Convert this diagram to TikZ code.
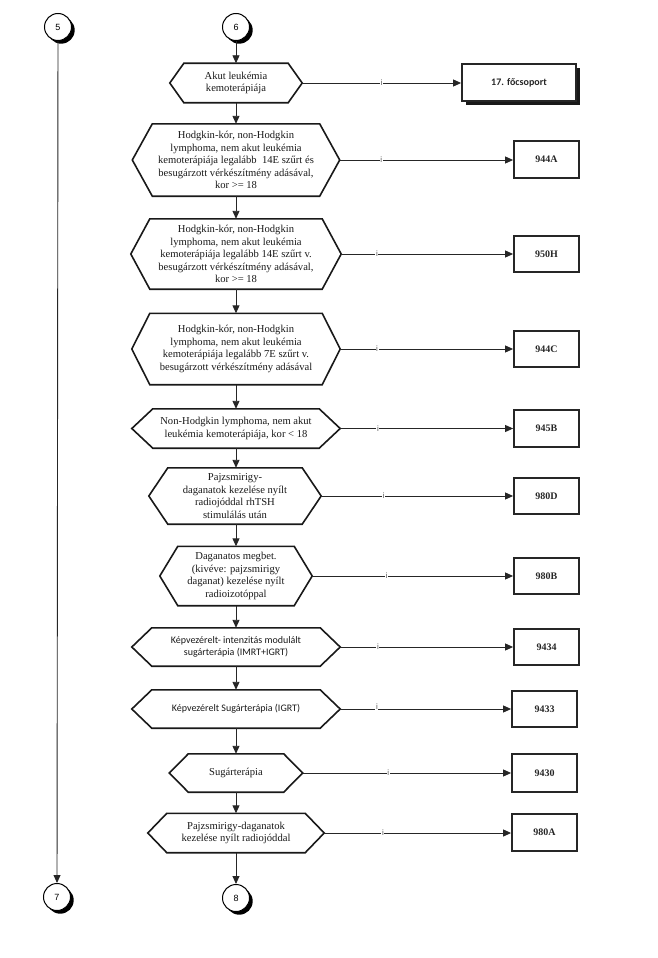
\documentclass[tikz,border=0pt]{standalone}
\usepackage{fontspec}
\setmainfont{Liberation Serif}
\newfontfamily\carlito{Carlito}
\newfontfamily\arialf{Liberation Sans}
\usetikzlibrary{arrows.meta,shadows}
\newcommand\hexdraw[2]{\draw[hexline] (#1.west) -- ([xshift=#2pt]#1.north west) -- ([xshift=-#2pt]#1.north east) -- (#1.east) -- ([xshift=-#2pt]#1.south east) -- ([xshift=#2pt]#1.south west) -- cycle;}
\tikzset{
 hexnode/.style={rectangle, inner sep=0pt, align=center, text=black!90, font=\fontsize{10.6}{12.4}\selectfont},
 hexsans/.style={hexnode, font=\carlito\fontsize{10}{12.4}\selectfont},
 hexline/.style={line width=1.6pt, line join=miter, black!90},
 codebox/.style={draw=black!85, line width=1.8pt, rectangle, minimum width=65pt, minimum height=36pt, font=\fontsize{10}{12}\selectfont\bfseries, text=black!85, inner sep=0pt},
 conn/.style={line width=0.9pt, black!85, -{Triangle[length=8pt,width=7pt]}},
 ilab/.style={fill=white, inner xsep=0.6pt, inner ysep=0.3pt, font=\arialf\fontsize{8}{8}\selectfont, text=black!65},
 conncirc/.style={circle, draw, line width=1pt, fill=white, minimum size=27pt, inner sep=0pt, font=\arialf\fontsize{9}{9}\selectfont, drop shadow={shadow xshift=3.2pt, shadow yshift=-3.2pt, fill=black, opacity=1}},
}
\begin{document}
\begin{tikzpicture}[x=1pt,y=-1pt]
\useasboundingbox (0,0) rectangle (657,958);
% connector circles
\node[conncirc] (c5) at (58,27) {5};
\node[conncirc] (c6) at (236,27) {6};
\node[conncirc] (c7) at (57,897) {7};
\node[conncirc] (c8) at (236,898) {8};
% hexagon nodes
\node[hexnode, minimum width=132pt, minimum height=39pt] (h1) at (236,83) {Akut leukémia\\kemoterápiája};
\node[hexnode, minimum width=207pt, minimum height=72pt] (h2) at (236,160) {Hodgkin-kór, non-Hodgkin\\lymphoma, nem akut leukémia\\kemoterápiája legalább\ \ 14E szűrt és\\besugárzott vérkészítmény adásával,\\kor >= 18};
\node[hexnode, minimum width=210pt, minimum height=70pt] (h3) at (236,254) {Hodgkin-kór, non-Hodgkin\\lymphoma, nem akut leukémia\\kemoterápiája legalább 14E szűrt v.\\besugárzott vérkészítmény adásával,\\kor >= 18};
\node[hexnode, minimum width=208pt, minimum height=71pt] (h4) at (236,349) {Hodgkin-kór, non-Hodgkin\\lymphoma, nem akut leukémia\\kemoterápiája legalább 7E szűrt v.\\besugárzott vérkészítmény adásával};
\node[hexnode, minimum width=208pt, minimum height=39pt] (h5) at (236,428.5) {Non-Hodgkin lymphoma, nem akut\\leukémia kemoterápiája, kor < 18};
\node[hexnode, minimum width=172pt, minimum height=56pt] (h6) at (235,496) {Pajzsmirigy-\\daganatok kezelése nyílt\\radiojóddal rhTSH\\stimulálás után};
\node[hexnode, minimum width=152pt, minimum height=59pt] (h7) at (236,576) {Daganatos megbet.\\(kivéve: pajzsmirigy\\daganat) kezelése nyílt\\radioizotóppal};
\node[hexsans, minimum width=208pt, minimum height=38pt] (h8) at (236,647) {Képvezérelt- intenzitás modulált\\sugárterápia (IMRT+IGRT)};
\node[hexsans, minimum width=208pt, minimum height=38pt] (h9) at (236,709) {Képvezérelt Sugárterápia (IGRT)};
\node[hexnode, minimum width=133pt, minimum height=38pt] (h10) at (236,773) {Sugárterápia};
\node[hexnode, minimum width=176pt, minimum height=39pt] (h11) at (236,833) {Pajzsmirigy-daganatok\\kezelése nyílt radiojóddal};
\hexdraw{h1}{14}
\hexdraw{h2}{20}
\hexdraw{h3}{19}
\hexdraw{h4}{18}
\hexdraw{h5}{21}
\hexdraw{h6}{19}
\hexdraw{h7}{18}
\hexdraw{h8}{20}
\hexdraw{h9}{20}
\hexdraw{h10}{19}
\hexdraw{h11}{19}
% result boxes
\node[codebox, minimum width=114pt, minimum height=37pt, font=\carlito\fontsize{10}{12}\selectfont\bfseries, drop shadow={shadow xshift=4pt, shadow yshift=-4pt, fill=black!90, opacity=1}, fill=white] (b1) at (519,82.5) {17. főcsoport};
\node[codebox, minimum height=37pt] (b2) at (546.5,159.5) {944A};
\node[codebox] (b3) at (546.5,254) {950H};
\node[codebox] (b4) at (546.5,349) {944C};
\node[codebox, minimum height=37pt] (b5) at (546.5,428.5) {945B};
\node[codebox] (b6) at (546.5,496) {980D};
\node[codebox] (b7) at (546.5,576) {980B};
\node[codebox] (b8) at (546.5,647) {9434};
\node[codebox] (b9) at (544.5,709) {9433};
\node[codebox, minimum height=38pt] (b10) at (544.5,773) {9430};
\node[codebox, minimum height=37pt] (b11) at (544.5,832.5) {980A};
% vertical flow
\draw[conn] (c5) -- (c7);
\draw[conn] (c6) -- (h1.north);
\draw[conn] (h1.south) -- (h2.north);
\draw[conn] (h2.south) -- (h3.north);
\draw[conn] (h3.south) -- (h4.north);
\draw[conn] (h4.south) -- (h5.north);
\draw[conn] (h5.south) -- (h6.north -| h5.south);
\draw[conn] (h6.south -| h5.south) -- (h7.north);
\draw[conn] (h7.south) -- (h8.north);
\draw[conn] (h8.south) -- (h9.north);
\draw[conn] (h9.south) -- (h10.north);
\draw[conn] (h10.south) -- (h11.north);
\draw[conn] (h11.south) -- (c8);
% horizontal branches
\draw[conn] (h1.east) -- node[ilab, pos=0.5] {i} (h1.east -| b1.west);
\draw[conn] (h2.east) -- node[ilab, pos=0.24] {i} (h2.east -| b2.west);
\draw[conn] (h3.east) -- node[ilab, pos=0.208] {i} (h3.east -| b3.west);
\draw[conn] (h4.east) -- node[ilab, pos=0.213] {i} (h4.east -| b4.west);
\draw[conn] (h5.east) -- node[ilab, pos=0.218] {i} (h5.east -| b5.west);
\draw[conn] (h6.east) -- node[ilab, pos=0.326] {i} (h6.east -| b6.west);
\draw[conn] (h7.east) -- node[ilab, pos=0.371] {i} (h7.east -| b7.west);
\draw[conn] (h8.east) -- node[ilab, pos=0.218] {i} (h8.east -| b8.west);
\draw[conn] (h9.east) -- node[ilab, pos=0.215, yshift=2pt] {i} (h9.east -| b9.west);
\draw[conn] (h10.east) -- node[ilab, pos=0.41] {i} (h10.east -| b10.west);
\draw[conn] (h11.east) -- node[ilab, pos=0.314] {i} (h11.east -| b11.west);
\end{tikzpicture}
\end{document}
